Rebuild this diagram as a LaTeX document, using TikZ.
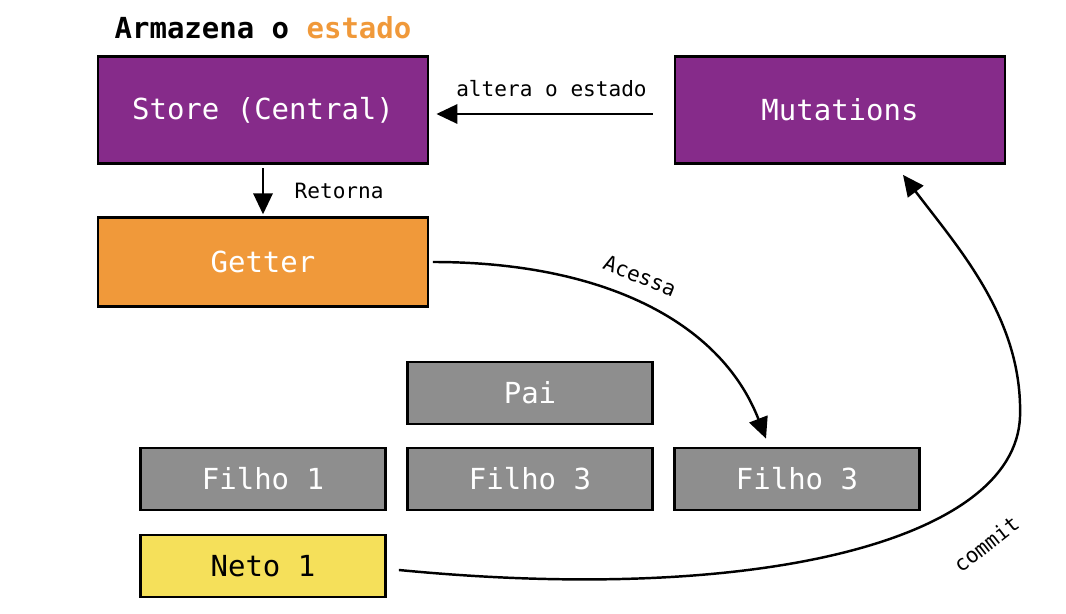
\documentclass[tikz,border=0pt]{standalone}
\usepackage{fontspec}
\setmonofont{DejaVu Sans Mono}
\usepackage{xcolor}
\usetikzlibrary{arrows.meta,calc}

\definecolor{vpurple}{HTML}{862B8A}
\definecolor{vorange}{HTML}{F0993A}
\definecolor{vgray}{HTML}{8E8E8E}
\definecolor{vyellow}{HTML}{F5E05A}

\begin{document}
\begin{tikzpicture}[x=0.02cm, y=-0.02cm,
    box/.style={draw=black, line width=1.6pt, minimum width=6.6cm, text=white, font=\ttfamily\fontsize{16.5}{18}\selectfont},
    smallbox/.style={box, minimum width=4.9cm, minimum height=1.24cm},
    lbl/.style={font=\ttfamily\fontsize{12}{14}\selectfont},
    arr/.style={-{Triangle[length=12pt,width=11pt]}, line width=1.4pt}]
    \useasboundingbox (0,0) rectangle (1066,614);

    \node[font=\ttfamily\bfseries\fontsize{16.5}{18}\selectfont] (title) at (263,28) {Armazena o \textcolor{vorange}{estado}};

    \node[box, fill=vpurple, minimum height=2.14cm] (store) at (263,110) {Store (Central)};
    \node[box, fill=vpurple, minimum height=2.14cm] (mutations) at (840,110) {Mutations};
    \node[box, fill=vorange, minimum height=1.78cm] (getter) at (263,262) {Getter};

    \node[smallbox, fill=vgray] (pai) at (530,393) {Pai};
    \node[smallbox, fill=vgray] (filho1) at (263,479) {Filho 1};
    \node[smallbox, fill=vgray] (filho3a) at (530,479) {Filho 3};
    \node[smallbox, fill=vgray] (filho3b) at (797,479) {Filho 3};
    \node[smallbox, fill=vyellow, text=black] (neto) at (263,566) {Neto 1};

    % setas
    \draw[arr, shorten <=12pt, shorten >=4pt] ($(mutations.west)+(0,4)$) -- ($(store.east)+(0,4)$) node[lbl, midway, above=6pt] (altera) {altera o estado};
    \draw[arr, shorten <=2pt, shorten >=1pt] (store.south) -- (getter.north) node[lbl, midway, right=14pt] (retorna) {Retorna};

    \coordinate (acessaend) at ($(filho3b.north)+(-31,-8)$);
    \draw[arr, shorten <=2pt] (getter.east) .. controls (600,262) and (720,320) .. (acessaend);
    \node[lbl, rotate=-22] (acessa) at (640,276) {Acessa};

    \coordinate (commitend) at ($(mutations.south)+(63,10)$);
    \draw[arr] ($(neto.east)+(12,4)$) .. controls (760,605) and (1015,540) .. (1020,417) .. controls (1023,320) and (960,250) .. (commitend);
    \node[lbl, rotate=38] (commit) at (986,544) {commit};
\end{tikzpicture}
\end{document}
